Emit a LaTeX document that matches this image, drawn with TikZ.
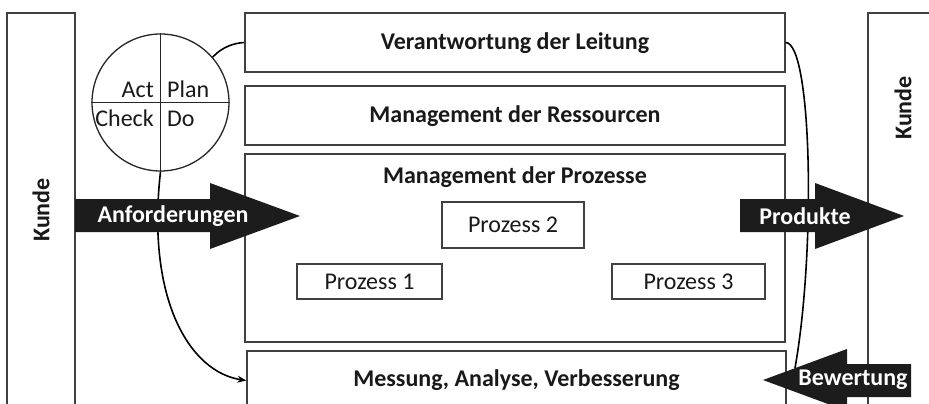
\documentclass[tikz,border=0pt]{standalone}
\usepackage{fontspec}
\setmainfont{Carlito}
\usetikzlibrary{arrows.meta}
\definecolor{boxline}{HTML}{404040}
\definecolor{arrowfill}{HTML}{1C1C1C}
\begin{document}
\begin{tikzpicture}[x=1pt,y=-1pt,
  box/.style={draw=boxline,line width=1.3pt,rectangle,inner sep=0pt,fill=white},
  headtext/.style={font=\fontsize{24}{28}\selectfont\bfseries,inner sep=0pt,text=black!90},
  regtext/.style={font=\fontsize{24}{28}\selectfont,inner sep=0pt,text=black!90},
  wtext/.style={font=\fontsize{24}{28}\selectfont\bfseries,inner sep=0pt,text=white},
  conn/.style={draw=black,line width=1.6pt},
  arrowshape/.style={fill=arrowfill}
]
\useasboundingbox (0,0) rectangle (929,404);
\clip (0,0) rectangle (929,404);
\fill[fill=white] (0,0) rectangle (929,404);

% customer boxes
\node[box,minimum width=68pt,minimum height=407pt] (kl) at (41,216.5) {};
\node[box,minimum width=72pt,minimum height=407pt] (kr) at (904,216.5) {};
\node[headtext,rotate=90] (kltext) at (41,210) {Kunde};
\node[headtext,rotate=90] (krtext) at (903,108) {Kunde};

% main boxes
\node[box,minimum width=540pt,minimum height=59pt] (b1) at (515,42.5) {};
\node[headtext] (b1t) at (515,43) {Verantwortung der Leitung};
\node[box,minimum width=540pt,minimum height=59pt] (b2) at (515,115.5) {};
\node[headtext] (b2t) at (515,116) {Management der Ressourcen};
\node[box,minimum width=540pt,minimum height=188pt] (b3) at (515,248) {};
\node[headtext] (b3t) at (515,177) {Management der Prozesse};
\node[box,minimum width=539pt,minimum height=59pt] (b4) at (516.5,380.5) {};
\node[headtext] (b4t) at (516.5,380) {Messung, Analyse, Verbesserung};

% process boxes
\node[box,minimum width=145pt,minimum height=35pt,regtext] (p1) at (369.5,281.5) {Prozess 1};
\node[box,minimum width=142pt,minimum height=46pt,regtext] (p2) at (513,225) {Prozess 2};
\node[box,minimum width=153pt,minimum height=35pt,regtext] (p3) at (688.5,281.5) {Prozess 3};

% PDCA circle
\node[draw=black!85,line width=1.3pt,circle,minimum size=137pt,inner sep=0pt,fill=white] (pdca) at (160.5,102.5) {};
\draw[black!85,line width=1.3pt] (pdca.north) -- (pdca.south) (pdca.west) -- (pdca.east);
\node[regtext,anchor=base east] (act) at (154,97) {Act};
\node[regtext,anchor=base west] (plan) at (167,97) {Plan};
\node[regtext,anchor=base east] (check) at (154,126) {Check};
\node[regtext,anchor=base west] (do) at (167,126) {Do};

% connectors
\draw[conn] (pdca.41) .. controls (222,47) and (234,43) .. (b1.west);
\draw[conn,-{Stealth[length=9pt,width=7pt]}] (pdca.south) .. controls (146,300) and (190,372) .. (b4.west);
\coordinate (bewend) at (795,368);
\draw[conn] (b1.east) .. controls (812,43) and (816,250) .. (bewend);

% big arrows
\fill[arrowshape] (75,199) -- (210,199) -- (210,183) -- (300,216) -- (210,249) -- (210,232) -- (75,232) -- cycle;
\node[wtext] (anf) at (173,216) {Anforderungen};
\fill[arrowshape] (740,199) -- (815,199) -- (815,183) -- (904,216) -- (815,249) -- (815,232) -- (740,232) -- cycle;
\node[wtext] (prod) at (805,216) {Produkte};
\fill[arrowshape] (763,380) -- (847,349) -- (847,364) -- (911,364) -- (911,397) -- (847,397) -- (847,411) -- cycle;
\node[wtext] (bew) at (853,380) {Bewertung};
\end{tikzpicture}
\end{document}
